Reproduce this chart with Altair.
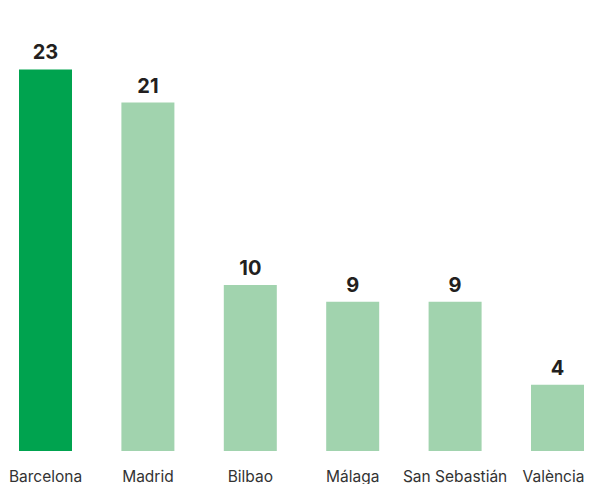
import altair as alt
import pandas as pd

cities = ["Barcelona", "Madrid", "Bilbao", "Málaga", "San Sebastián", "València"]
counts = [23, 21, 10, 9, 9, 4]
highlight = [True, False, False, False, False, False]

df = pd.DataFrame({"city": cities, "count": counts, "hl": highlight})

x = alt.X(
    "city:N",
    sort=cities,
    scale=alt.Scale(paddingInner=0.4824, paddingOuter=0),
    axis=alt.Axis(
        title=None,
        domain=False,
        ticks=False,
        tickSize=0,
        grid=False,
        labelAngle=0,
        labelFont="Inter",
        labelFontSize=15.5,
        labelColor="#333333",
        labelBaseline="alphabetic",
        labelPadding=30,
        labelOffset=alt.expr("datum.value === 'València' ? -4 : 0"),
    ),
)
y = alt.Y("count:Q", scale=alt.Scale(domain=[0, 26.7], nice=False), axis=None)

bars = alt.Chart(df).mark_bar().encode(
    x=x,
    y=y,
    color=alt.Color(
        "hl:N",
        scale=alt.Scale(domain=[True, False], range=["#00A34F", "#A1D3AE"]),
        legend=None,
    ),
)

labels = alt.Chart(df).mark_text(
    font="Inter",
    fontSize=20,
    fontWeight="bold",
    color="#231f20",
    baseline="alphabetic",
    dy=-10,
).encode(x=x, y=y, text="count:Q")

chart = (
    alt.layer(bars, labels)
    .properties(
        width=565,
        height=443,
        autosize=alt.AutoSizeParams(type="none"),
        padding={"left": 11, "right": 1, "top": 0, "bottom": 33},
    )
    .configure_view(stroke=None)
)

chart.save("out.html", embed_options={"renderer": "svg", "actions": False})
